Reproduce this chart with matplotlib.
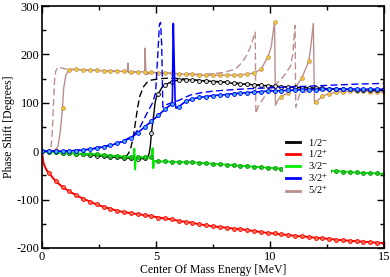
import numpy as np
import matplotlib
matplotlib.use("Agg")
import matplotlib.pyplot as plt
from matplotlib.lines import Line2D

plt.rcParams['font.family'] = ['Liberation Serif', 'DejaVu Serif']
plt.rcParams['mathtext.fontset'] = 'stix'
plt.rcParams['axes.unicode_minus'] = False

# energy grid of the calculated points (MeV)
e_grid = np.round(np.arange(51) * 0.3, 1)

# 1/2+  (red)
red_vals = [0, -45, -62, -74, -83, -91, -98, -104, -110, -115, -119, -123, -126, -128, -130, -132, -134,
            -137, -139, -141, -144, -146, -148, -151, -153, -155, -157, -158, -160, -161, -163, -165, -167,
            -169, -170, -172, -173, -175, -176, -177, -179, -180, -181, -183, -184, -185, -186, -187, -188,
            -189, -190]
red_xx = [0.05, 0.1, 0.2]
red_yy = [-20, -29, -39]

# 3/2-  (green)
green_vals = [0, -1, -2, -3, -4, -5, -5, -6, -6, -8, -9, -10, -11, -12, -12, -13, -13, -21, -21, -22, -22,
              -23, -23, -24, -25, -26, -27, -28, -29, -30, -31, -32, -33, -34, -35, -36, -37, -37, -38, -38,
              -39, -39, -40, -41, -42, -43, -44, -45, -45, -46, -47]
green_xx = [4.02, 4.05, 4.08, 4.12, 4.82, 4.85, 4.88, 4.92]
green_yy = [-12, 5, -38, -13, -13, 6, -35, -20]

# 1/2-  (black)
black_vals = [0, -1, -2, -3, -4, -5, -6, -8, -9, -10, -12, -13, -14, -15, -16, -15, 38, 118, 137, 144, 147,
              148, 147, 146, 145, 144, 143, 142, 140, 139, 138, 137, 136, 135, 134, 133, 133, 132, 131, 131,
              130, 130, 129, 129, 128, 128, 127, 127, 127, 126, 126]
black_xx = [4.62, 4.7, 4.75, 4.9, 4.96, 5.02, 5.25]
black_yy = [-13, -5, 10, 75, 100, 112, 131]
black_dash_x = [0, 1, 2, 3, 3.5, 3.7, 3.8, 3.9, 4.0, 4.1, 4.2, 4.3, 4.45, 4.6, 4.8, 5.2, 5.6, 6.0, 6.5, 7, 8,
                9, 10, 11, 12, 13, 14, 15]
black_dash_y = [0, -3, -7, -12, -13, -10, -4, 8, 28, 60, 92, 115, 133, 142, 147, 150, 151, 150, 148, 146,
                143, 139, 135, 132, 130, 129, 127, 126]

# 3/2+  (blue)
blue_vals = [0, 0, 0, 0, 1, 1, 2, 4, 6, 9, 12, 16, 21, 28, 38, 50, 62, 74, 87, 98, 92, 103, 108, 111, 113,
             115, 116, 117, 119, 120, 121, 122, 123, 124, 125, 125, 126, 126, 127, 127, 127, 128, 128, 128,
             128, 128, 128, 128, 128, 128, 128]
blue_xx = [5.72, 5.74, 5.76, 5.8, 5.84, 5.88]
blue_yy = [110, 200, 264, 180, 100, 89]
blue_dash_x = [0, 1, 2, 3, 3.5, 4.0, 4.3, 4.6, 4.85, 4.98, 5.08, 5.15, 5.2, 5.25, 5.3, 5.5, 5.75, 6.0, 6.5,
               7.0, 7.5, 8, 9, 10, 11, 12, 13, 14, 15]
blue_dash_y = [0, 0, 4, 13, 20, 32, 50, 78, 100, 120, 200, 262, 266, 220, 91, 97, 101, 105, 116, 121, 124,
               126, 129, 131, 133, 135, 137, 139, 140]

# 5/2+  (rosy brown)
brown_vals = [0, 1, 2, 90, 168, 169, 168, 167, 167, 166, 166, 165, 165, 164, 164, 164, 163, 162, 162, 161,
              160, 159, 159, 157, 157, 157, 157, 157, 157, 158, 159, 162, 169, 194, 266, 113, 121, 130, 152,
              186, 101, 114, 119, 122, 123, 124, 124, 124, 123, 123, 122]
brown_xx = [0.7, 0.8, 0.95, 1.05, 3.74, 3.77, 3.8, 4.48, 4.52, 4.56, 10.05, 10.15, 10.24, 10.35, 11.8,
            11.9, 11.95]
brown_yy = [10, 40, 130, 158, 165, 182, 162, 164, 213, 158, 215, 250, 95, 106, 220, 264, 99]
brown_dash_x = [0, 0.3, 0.4, 0.45, 0.5, 0.55, 0.6, 0.7, 0.85, 1.0, 2, 3, 4, 5, 6, 7, 7.5, 8, 8.5, 8.8,
                9.0, 9.2, 9.3, 9.35, 9.38, 9.5, 9.8, 10.0, 10.3, 10.57, 10.9, 11.0, 11.08, 11.1, 11.13,
                11.3, 11.6, 12, 13, 14, 15]
brown_dash_y = [0, 2, 10, 40, 95, 145, 165, 174, 172, 170, 168, 166, 164, 162, 160, 159, 160, 163, 170,
                185, 200, 222, 240, 246, 78, 95, 115, 126, 140, 153, 176, 200, 250, 260, 91, 118, 123, 126,
                127, 127, 126]

labels = ['1/2$^{-}$', '1/2$^{+}$', '3/2$^{-}$', '3/2$^{+}$', '5/2$^{+}$']
colors = ['black', '#ff0000', '#00ee00', '#0000ff', '#bc8f8f']


def merge(vals, xx, yy):
    x = np.concatenate([e_grid, xx])
    y = np.concatenate([np.array(vals, float), yy])
    order = np.argsort(x, kind='stable')
    marks = list(np.where(order < len(e_grid))[0])
    return x[order], y[order], marks


fig = plt.figure(figsize=(3.9, 2.77), dpi=100)
ax = fig.add_axes([0.1077, 0.1047, 0.8769, 0.8736])

lw = 1.0
ms = 2.8
dash = (0, (5, 2.5))

# 5/2+
ax.plot(brown_dash_x, brown_dash_y, color=colors[4], lw=lw, ls=dash)
x, y, mk = merge(brown_vals, brown_xx, brown_yy)
ax.plot(x, y, color=colors[4], lw=lw, marker='o', ms=ms, markevery=mk,
        mfc='#f0c830', mec='#c09060', mew=0.5)

# 1/2-
ax.plot(black_dash_x, black_dash_y, color='black', lw=lw, ls=dash)
x, y, mk = merge(black_vals, black_xx, black_yy)
ax.plot(x, y, color='black', lw=lw, marker='o', ms=ms, markevery=mk, mfc='#dddddd', mec='black', mew=0.6)

# 1/2+
x, y, mk = merge(red_vals, red_xx, red_yy)
ax.plot(x, y, color=colors[1], lw=lw + 0.4, marker='o', ms=ms, markevery=mk, mfc='#ff7050',
        mec='#ff0000', mew=0.6)

# 3/2-
x, y, mk = merge(green_vals, green_xx, green_yy)
ax.plot(x, y, color=colors[2], lw=lw + 0.4, marker='o', ms=ms, markevery=mk, mfc='#30c030',
        mec='#00a000', mew=0.6)

# 3/2+
ax.plot(blue_dash_x, blue_dash_y, color=colors[3], lw=lw, ls=dash)
x, y, mk = merge(blue_vals, blue_xx, blue_yy)
ax.plot(x, y, color=colors[3], lw=lw + 0.2, marker='o', ms=ms, markevery=mk, mfc='#40b0ff',
        mec='#0000ff', mew=0.6)

ax.set_xlim(0, 15)
ax.set_ylim(-200, 300)
ax.set_xticks([0, 5, 10, 15])
ax.set_xticks([2.5, 7.5, 12.5], minor=True)
ax.set_yticks([-200, -100, 0, 100, 200, 300])
ax.set_yticks([-150, -50, 50, 150, 250], minor=True)
ax.tick_params(which='both', direction='in', top=True, right=True, labelsize=9, width=1)
ax.tick_params(which='major', length=5, pad=2)
ax.tick_params(which='minor', length=3)
for s in ax.spines.values():
    s.set_linewidth(1.2)

ax.set_xlabel('Center Of Mass Energy [MeV]', fontsize=8.5, labelpad=1)
ax.set_ylabel('Phase Shift [Degrees]', fontsize=8.5, labelpad=1)

handles = [Line2D([], [], color=c, lw=2) for c in colors]
leg = ax.legend(handles, labels, loc='upper left', bbox_to_anchor=(0.69, 0.495), fontsize=7.5,
                frameon=True, framealpha=1, edgecolor='none', facecolor='white', fancybox=False,
                handlelength=1.3, handletextpad=0.8, labelspacing=0.03, borderpad=0.3)

fig.savefig('out.png', dpi=100)
